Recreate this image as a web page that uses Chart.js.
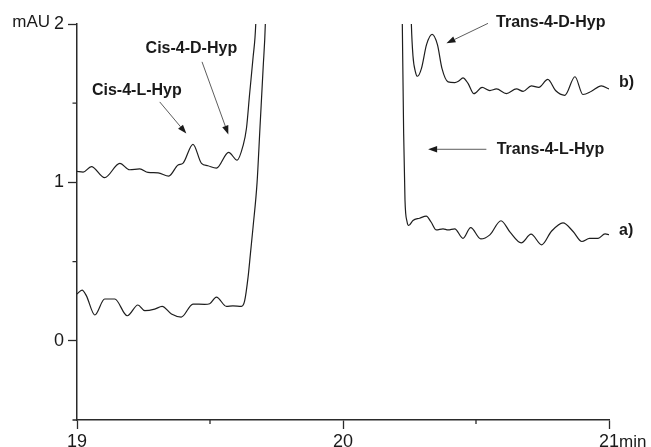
<!DOCTYPE html>
<html>
<head>
<meta charset="utf-8">
<script src="https://cdn.jsdelivr.net/npm/chart.js@4/dist/chart.umd.min.js"></script>
<style>
  html, body { margin: 0; padding: 0; background: #fff; }
  canvas { display: block; }
</style>
</head>
<body>
<canvas id="chart" width="651" height="447"></canvas>
<script>
// trace a) — lower chromatogram (min / mAU); null = off scale
const timeA = [19.0, 19.019, 19.035, 19.067, 19.104, 19.142, 19.189, 19.229, 19.255, 19.292,
  19.320, 19.355, 19.392, 19.436, 19.480, 19.499, 19.524, 19.562, 19.586, 19.618,
  19.630, 19.643, 19.652, 19.662, 19.677, 19.688, 19.700, 19.708, 19.712, 19.95,
  20.221, 20.223, 20.228, 20.233, 20.241, 20.247, 20.263, 20.288, 20.313, 20.331,
  20.351, 20.376, 20.395, 20.420, 20.451, 20.480, 20.518, 20.552, 20.594, 20.628,
  20.670, 20.707, 20.747, 20.783, 20.827, 20.865, 20.898, 20.927, 20.959, 20.985, 21.0];
const absA = [0.295, 0.32, 0.285, 0.163, 0.264, 0.264, 0.158, 0.226, 0.19, 0.20,
  0.217, 0.169, 0.15, 0.232, 0.23, 0.234, 0.276, 0.217, 0.22, 0.217,
  0.25, 0.40, 0.55, 0.72, 1.0, 1.35, 1.73, 2.0, 2.3, null,
  2.3, 2.0, 1.31, 0.89, 0.75, 0.728, 0.76, 0.774, 0.787, 0.75,
  0.70, 0.707, 0.70, 0.707, 0.647, 0.715, 0.643, 0.669, 0.758, 0.686,
  0.618, 0.673, 0.606, 0.69, 0.745, 0.69, 0.627, 0.647, 0.647, 0.675, 0.67];

// trace b) — upper chromatogram
const timeB = [19.0, 19.023, 19.054, 19.104, 19.161, 19.198, 19.236, 19.267, 19.305, 19.345,
  19.380, 19.398, 19.436, 19.468, 19.492, 19.524, 19.570, 19.602, 19.624, 19.637,
  19.649, 19.662, 19.672, 19.677, 19.95, 20.253, 20.257, 20.263, 20.272, 20.280,
  20.295, 20.314, 20.335, 20.355, 20.372, 20.395, 20.420, 20.435, 20.451, 20.470,
  20.492, 20.523, 20.552, 20.577, 20.614, 20.652, 20.677, 20.708, 20.736, 20.770,
  20.799, 20.834, 20.872, 20.902, 20.934, 20.971, 21.0];
const absB = [1.07, 1.065, 1.10, 1.03, 1.12, 1.08, 1.085, 1.063, 1.06, 1.04,
  1.11, 1.12, 1.24, 1.12, 1.105, 1.09, 1.19, 1.14, 1.23, 1.34,
  1.56, 1.79, 2.0, 2.3, null, 2.3, 2.0, 1.80, 1.70, 1.67,
  1.72, 1.87, 1.935, 1.87, 1.72, 1.635, 1.63, 1.64, 1.66, 1.625,
  1.56, 1.60, 1.58, 1.59, 1.56, 1.59, 1.575, 1.61, 1.60, 1.65,
  1.58, 1.55, 1.667, 1.555, 1.575, 1.61, 1.59];

const xTicks = [19, 20, 21];
const yTicks = [0, 1, 2];
const xMinor = [19.5, 20.5];
const yMinor = [-0.5, 0.5, 1.5];
const peakNames = ['Cis-4-L-Hyp', 'Cis-4-D-Hyp', 'Trans-4-D-Hyp', 'Trans-4-L-Hyp'];
const traceNames = ['a)', 'b)'];

const ink = '#1a1a1a';
const axisColor = '#2a2a2a';

// where each peak label sits and where its arrow points (data units)
const peakPlacement = [
  { tx: 19.225, ty: 1.551, from: [19.311, 1.508], to: [19.411, 1.308] },
  { tx: 19.430, ty: 1.815, from: [19.470, 1.761], to: [19.569, 1.302] },
  { tx: 20.781, ty: 1.983, from: [20.545, 2.004], to: [20.389, 1.878] },
  { tx: 20.780, ty: 1.177, from: [20.539, 1.209], to: [20.320, 1.209] }
];
const tracePlacement = [{ ty: 0.665 }, { ty: 1.601 }];

const toPoints = (xs, ys) => xs.map((t, i) => ({ x: t, y: ys[i] }));

const overlay = {
  id: 'overlay',
  afterDraw(chart) {
    const { ctx, chartArea: area, scales: { x, y } } = chart;
    ctx.save();

    // minor ticks, shorter than the major ones
    ctx.strokeStyle = axisColor;
    ctx.lineWidth = 1.3;
    ctx.beginPath();
    xMinor.forEach(v => {
      const px = x.getPixelForValue(v);
      ctx.moveTo(px, area.bottom);
      ctx.lineTo(px, area.bottom + 4);
    });
    yMinor.forEach(v => {
      const py = y.getPixelForValue(v);
      ctx.moveTo(area.left, py);
      ctx.lineTo(area.left - 4.5, py);
    });
    ctx.stroke();

    // axis units
    ctx.fillStyle = ink;
    ctx.font = '17px "Liberation Sans", Arial, sans-serif';
    ctx.textAlign = 'right';
    ctx.textBaseline = 'alphabetic';
    ctx.fillText('mAU', area.left - 27, area.top + 3);
    ctx.textAlign = 'left';
    ctx.fillText('min', area.right + 10, area.bottom + 26.5);

    // peak labels with arrows
    ctx.font = 'bold 16px "Liberation Sans", Arial, sans-serif';
    ctx.textAlign = 'center';
    peakNames.forEach((name, i) => {
      const p = peakPlacement[i];
      ctx.fillText(name, x.getPixelForValue(p.tx), y.getPixelForValue(p.ty));
      const x0 = x.getPixelForValue(p.from[0]), y0 = y.getPixelForValue(p.from[1]);
      const x1 = x.getPixelForValue(p.to[0]), y1 = y.getPixelForValue(p.to[1]);
      const ang = Math.atan2(y1 - y0, x1 - x0);
      const head = 9, half = 3.2;
      ctx.strokeStyle = '#333';
      ctx.lineWidth = 0.8;
      ctx.beginPath();
      ctx.moveTo(x0, y0);
      ctx.lineTo(x1 - head * Math.cos(ang), y1 - head * Math.sin(ang));
      ctx.stroke();
      ctx.beginPath();
      ctx.moveTo(x1, y1);
      ctx.lineTo(x1 - head * Math.cos(ang) + half * Math.sin(ang), y1 - head * Math.sin(ang) - half * Math.cos(ang));
      ctx.lineTo(x1 - head * Math.cos(ang) - half * Math.sin(ang), y1 - head * Math.sin(ang) + half * Math.cos(ang));
      ctx.closePath();
      ctx.fill();
    });

    // trace names at the right end
    ctx.textAlign = 'left';
    traceNames.forEach((name, i) => {
      ctx.fillText(name, area.right + 10, y.getPixelForValue(tracePlacement[i].ty));
    });
    ctx.restore();
  }
};

const axisTicks = {
  display: true,
  drawOnChartArea: false,
  tickLength: 9,
  tickColor: axisColor,
  tickWidth: 1.3
};

new Chart(document.getElementById('chart'), {
  type: 'line',
  data: {
    datasets: [
      {
        label: 'a)',
        data: toPoints(timeA, absA),
        borderColor: '#1e1e1e',
        borderWidth: 1.2,
        pointRadius: 0,
        cubicInterpolationMode: 'monotone',
        spanGaps: false
      },
      {
        label: 'b)',
        data: toPoints(timeB, absB),
        borderColor: '#1e1e1e',
        borderWidth: 1.2,
        pointRadius: 0,
        cubicInterpolationMode: 'monotone',
        spanGaps: false
      }
    ]
  },
  options: {
    responsive: false,
    animation: false,
    layout: { padding: { left: 0, right: 42, top: 24, bottom: 0 } },
    plugins: {
      legend: { display: false },
      tooltip: { enabled: false }
    },
    scales: {
      x: {
        type: 'linear',
        min: 19,
        max: 21,
        afterBuildTicks: s => { s.ticks = xTicks.map(v => ({ value: v })); },
        afterFit: s => { s.height = 27; },
        grid: axisTicks,
        border: { display: true, color: axisColor, width: 1.5 },
        ticks: {
          color: ink,
          padding: 2,
          maxRotation: 0,
          font: { family: '"Liberation Sans", Arial, sans-serif', size: 18 }
        }
      },
      y: {
        type: 'linear',
        min: -0.5,
        max: 2,
        afterBuildTicks: s => { s.ticks = yTicks.map(v => ({ value: v })); },
        afterFit: s => { s.width = 77; },
        grid: axisTicks,
        border: { display: true, color: axisColor, width: 1.5 },
        ticks: {
          color: ink,
          padding: 4,
          font: { family: '"Liberation Sans", Arial, sans-serif', size: 18 }
        }
      }
    }
  },
  plugins: [overlay]
});
</script>
</body>
</html>
